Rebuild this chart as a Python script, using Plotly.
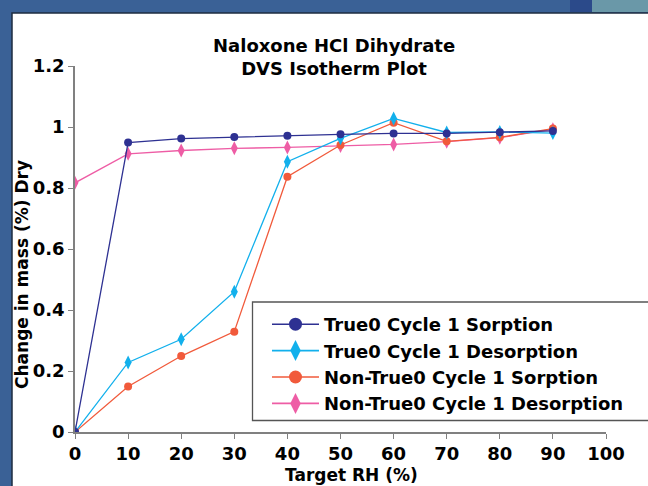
import plotly.graph_objects as go

# ---- data ----
rh = [0, 10, 20, 30, 40, 50, 60, 70, 80, 90]
true0_sorption = [0.0, 0.949, 0.962, 0.967, 0.971, 0.976, 0.979, 0.979, 0.983, 0.987]
true0_desorption = [0.0, 0.228, 0.304, 0.460, 0.886, 0.963, 1.028, 0.982, 0.984, 0.980]
nontrue0_sorption = [0.0, 0.149, 0.249, 0.329, 0.837, 0.941, 1.014, 0.953, 0.966, 0.995]
nontrue0_desorption = [0.817, 0.912, 0.923, 0.930, 0.933, 0.938, 0.943, 0.952, 0.965, 0.993]

series_names = ["True0 Cycle 1 Sorption", "True0 Cycle 1 Desorption",
                "Non-True0 Cycle 1 Sorption", "Non-True0 Cycle 1 Desorption"]
x_ticks = [0, 10, 20, 30, 40, 50, 60, 70, 80, 90, 100]
y_ticks = [0, 0.2, 0.4, 0.6, 0.8, 1.0, 1.2]

FONT = "DejaVu Sans"
NAVY = "#2E3192"
CYAN = "#12B0EC"
ORANGE = "#F15A3B"
PINK = "#EE5DA5"

series = [
    (series_names[3], nontrue0_desorption, PINK, "diamond-tall"),
    (series_names[2], nontrue0_sorption, ORANGE, "circle"),
    (series_names[1], true0_desorption, CYAN, "diamond-tall"),
    (series_names[0], true0_sorption, NAVY, "circle"),
]

fig = go.Figure()

# data traces: drawn pink, orange, cyan, navy (navy on top)
for name, ys, col, sym in series:
    fig.add_trace(go.Scatter(x=rh, y=ys, name=name, mode="lines+markers", showlegend=False,
                             line=dict(color=col, width=1.3),
                             marker=dict(symbol=sym, size=10 if sym != "circle" else 8, color=col)))

# legend entries (larger markers, thin lines), listed navy, cyan, orange, pink
for name, ys, col, sym in reversed(series):
    fig.add_trace(go.Scatter(x=[None], y=[None], name=name, mode="lines+markers",
                             line=dict(color=col, width=1.6),
                             marker=dict(symbol=sym, size=15 if sym != "circle" else 13, color=col)))

L, R, T, B = 75, 42, 66, 54
W, H = 648, 486
pw, ph = W - L - R, H - T - B


def px_x(px):
    return (px - L) / pw


def px_y(py):
    return (H - B - py) / ph


shapes = [
    # white panel
    dict(type="rect", xref="paper", yref="paper", layer="below",
         x0=px_x(12), x1=px_x(700), y0=px_y(13), y1=px_y(540),
         fillcolor="white", line=dict(color="#1E2C40", width=1.5)),
    # teal patch at top right of background
    dict(type="rect", xref="paper", yref="paper", layer="below",
         x0=px_x(592), x1=px_x(660), y0=px_y(-5), y1=px_y(12),
         fillcolor="#6A98A8", line=dict(width=0)),
    dict(type="rect", xref="paper", yref="paper", layer="below",
         x0=px_x(570), x1=px_x(592), y0=px_y(-5), y1=px_y(12),
         fillcolor="#2B4A8A", line=dict(width=0)),
    # legend box
    dict(type="rect", xref="paper", yref="paper", layer="above",
         x0=px_x(252.5), x1=px_x(700), y0=px_y(302), y1=px_y(420.5),
         fillcolor="rgba(255,255,255,0)", line=dict(color="#555555", width=1.3)),
]

annotations = [
    dict(text="Naloxone HCl Dihydrate<br>DVS Isotherm Plot", xref="paper", yref="paper",
         x=px_x(334), y=px_y(57.5), xanchor="center", yanchor="middle", showarrow=False,
         font=dict(family=FONT, size=18, color="black", weight="bold")),
    dict(text="Change in mass (%) Dry", xref="paper", yref="paper", textangle=-90,
         x=px_x(22), y=px_y(275), xanchor="center", yanchor="middle", showarrow=False,
         font=dict(family=FONT, size=17, color="black", weight="bold")),
    dict(text="Target RH (%)", xref="paper", yref="paper",
         x=px_x(351), y=px_y(475), xanchor="center", yanchor="middle", showarrow=False,
         font=dict(family=FONT, size=17, color="black", weight="bold")),
]

axis_common = dict(showgrid=False, zeroline=False, showline=True, linecolor="#808080",
                   linewidth=1.5, ticks="outside", ticklen=5, tickcolor="#808080", tickwidth=1.3,
                   tickfont=dict(family=FONT, size=18, color="black", weight="bold"))

fig.update_layout(
    width=W, height=H,
    margin=dict(l=L, r=R, t=T, b=B, autoexpand=False),
    paper_bgcolor="#3A6196",
    plot_bgcolor="white",
    shapes=shapes,
    annotations=annotations,
    showlegend=True,
    legend=dict(x=px_x(267), y=px_y(306), xanchor="left", yanchor="top",
                bgcolor="rgba(0,0,0,0)", borderwidth=0,
                itemsizing="trace", itemwidth=47,
                font=dict(family=FONT, size=18, color="black", weight="bold")),
    xaxis=dict(range=[0, 100], tickvals=x_ticks, **axis_common),
    yaxis=dict(range=[0, 1.2], tickvals=y_ticks, **axis_common),
)

fig.write_html("out.html", config={"displayModeBar": False},
               post_script="document.body.style.margin='0';document.body.style.overflow='hidden';")
